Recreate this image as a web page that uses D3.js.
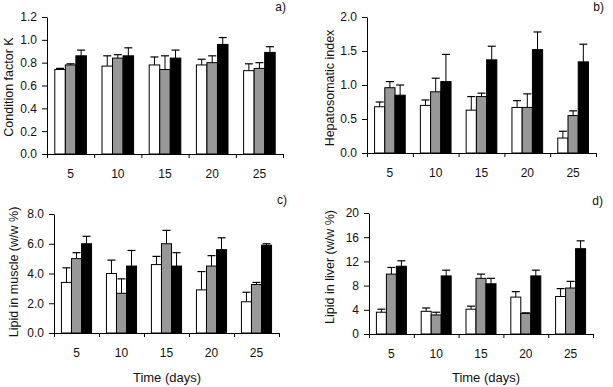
<!DOCTYPE html>
<html><head><meta charset="utf-8">
<script src="https://cdn.jsdelivr.net/npm/d3@7"></script>
<style>
body{margin:0;background:#fff;}
svg text{font-family:"Liberation Sans",Arial,sans-serif;fill:#111;}
</style></head>
<body><svg id="chart" width="613" height="387"></svg>
<script>
const days = ["5","10","15","20","25"];
const seriesNames = ["s1","s2","s3"];
const seriesColors = ["#ffffff","#989898","#000000"];

// Panel a: Condition factor K  (mean, upper error)
const condMean = [[0.74,0.78,0.86],[0.77,0.84,0.86],[0.78,0.74,0.84],[0.78,0.80,0.96],[0.73,0.75,0.89]];
const condErr  = [[0.75,0.79,0.91],[0.86,0.87,0.93],[0.85,0.86,0.91],[0.83,0.86,1.02],[0.79,0.80,0.94]];
// Panel b: Hepatosomatic index
const hsiMean = [[0.68,0.96,0.85],[0.70,0.90,1.05],[0.63,0.83,1.37],[0.67,0.67,1.52],[0.22,0.55,1.34]];
const hsiErr  = [[0.75,1.05,1.00],[0.78,1.10,1.45],[0.83,0.88,1.57],[0.77,0.87,1.78],[0.32,0.62,1.60]];
// Panel c: Lipid in muscle
const muscleMean = [[3.4,5.0,6.0],[4.0,2.67,4.5],[4.6,6.0,4.5],[2.9,4.5,5.6],[2.1,3.26,5.9]];
const muscleErr  = [[4.38,5.4,6.5],[4.9,3.64,5.55],[5.15,6.9,5.4],[4.13,5.2,6.4],[2.74,3.4,6.0]];
// Panel d: Lipid in liver
const liverMean = [[3.6,9.9,11.2],[3.75,3.15,9.6],[4.1,9.2,8.3],[6.1,3.4,9.6],[6.2,7.6,14.1]];
const liverErr  = [[4.1,11.0,12.1],[4.3,3.6,10.55],[4.6,9.9,9.2],[7.0,3.5,10.55],[7.5,8.7,15.4]];

const yTicksA = [0,0.2,0.4,0.6,0.8,1.0,1.2];
const yTicksB = [0,0.5,1.0,1.5,2.0];
const yTicksC = [0,2,4,6,8];
const yTicksD = [0,4,8,12,16,20];

const svg = d3.select("#chart");
const FONT = '"Liberation Sans",Arial,sans-serif';

const panels = [
  {mean:condMean, err:condErr, ticks:yTicksA, fmt:d3.format(".1f"), x0:47, x1:283, yTop:17, yBot:154,
   title:"Condition factor K", tx:13, ty:87, tag:"a)", tagX:286, tagY:11, xTitle:null},
  {mean:hsiMean, err:hsiErr, ticks:yTicksB, fmt:d3.format(".1f"), x0:367, x1:596, yTop:17, yBot:153,
   title:"Hepatosomatic index", tx:334, ty:88, tag:"b)", tagX:604, tagY:11, xTitle:null},
  {mean:muscleMean, err:muscleErr, ticks:yTicksC, fmt:d3.format(".1f"), x0:54, x1:279, yTop:214, yBot:333,
   title:"Lipid in muscle (w/w %)", tx:18, ty:272, tag:"c)", tagX:287, tagY:204, xTitle:"Time (days)", xtx:167},
  {mean:liverMean, err:liverErr, ticks:yTicksD, fmt:d3.format("d"), x0:369, x1:593, yTop:213, yBot:334,
   title:"Lipid in liver (w/w %)", tx:334, ty:267, tag:"d)", tagX:603, tagY:205, xTitle:"Time (days)", xtx:486}
];

panels.forEach(p => {
  const g = svg.append("g");
  const x = d3.scaleBand().domain(days).range([p.x0, p.x1]).padding(0);
  const xs = d3.scaleBand().domain(seriesNames).range([0, x.bandwidth()]).paddingInner(0).paddingOuter(0.74);
  const y = d3.scaleLinear().domain([0, d3.max(p.ticks)]).range([p.yBot, p.yTop]);

  days.forEach((d, i) => {
    const grp = g.append("g").attr("transform", `translate(${x(d)},0)`);
    seriesNames.forEach((s, j) => {
      const bx = xs(s), bw = xs.bandwidth();
      const v = p.mean[i][j], e = p.err[i][j];
      const cx = bx + bw / 2;
      grp.append("line").attr("x1", cx).attr("x2", cx).attr("y1", y(v)).attr("y2", y(e))
        .attr("stroke", "#000").attr("stroke-width", 1);
      grp.append("line").attr("x1", cx - 4).attr("x2", cx + 4).attr("y1", y(e)).attr("y2", y(e))
        .attr("stroke", "#000").attr("stroke-width", 1.2);
      grp.append("rect").attr("x", bx).attr("y", y(v)).attr("width", bw).attr("height", y(0) - y(v))
        .attr("fill", seriesColors[j]).attr("stroke", "#000").attr("stroke-width", 1);
    });
  });

  const ya = g.append("g").attr("transform", `translate(${p.x0},0)`)
    .call(d3.axisLeft(y).tickValues(p.ticks).tickFormat(p.fmt).tickSize(5).tickSizeOuter(0).tickPadding(5));
  ya.selectAll("text").style("font-size", "12px").style("font-family", FONT).attr("fill", "#111");
  ya.selectAll("line,path").attr("stroke", "#000");

  const xb = d3.scaleLinear().domain([0, days.length]).range([p.x0, p.x1]);
  const xa = g.append("g").attr("transform", `translate(0,${p.yBot})`)
    .call(d3.axisBottom(xb).tickValues(d3.range(days.length + 1)).tickFormat("").tickSize(4).tickSizeOuter(0));
  xa.selectAll("line,path").attr("stroke", "#000");
  const xl = g.append("g").attr("transform", `translate(0,${p.yBot})`)
    .call(d3.axisBottom(x).tickSize(0).tickPadding(15));
  xl.select(".domain").remove();
  xl.selectAll("text").style("font-size", "12px").style("font-family", FONT).attr("fill", "#111");

  g.append("text").attr("transform", `translate(${p.tx},${p.ty}) rotate(-90)`)
    .attr("text-anchor", "middle").style("font-size", "12.5px").text(p.title);
  g.append("text").attr("x", p.tagX).attr("y", p.tagY).attr("text-anchor", "end")
    .style("font-size", "12px").text(p.tag);
  if (p.xTitle) {
    g.append("text").attr("x", p.xtx).attr("y", 382).attr("text-anchor", "middle")
      .style("font-size", "13px").text(p.xTitle);
  }
});
</script></body></html>
